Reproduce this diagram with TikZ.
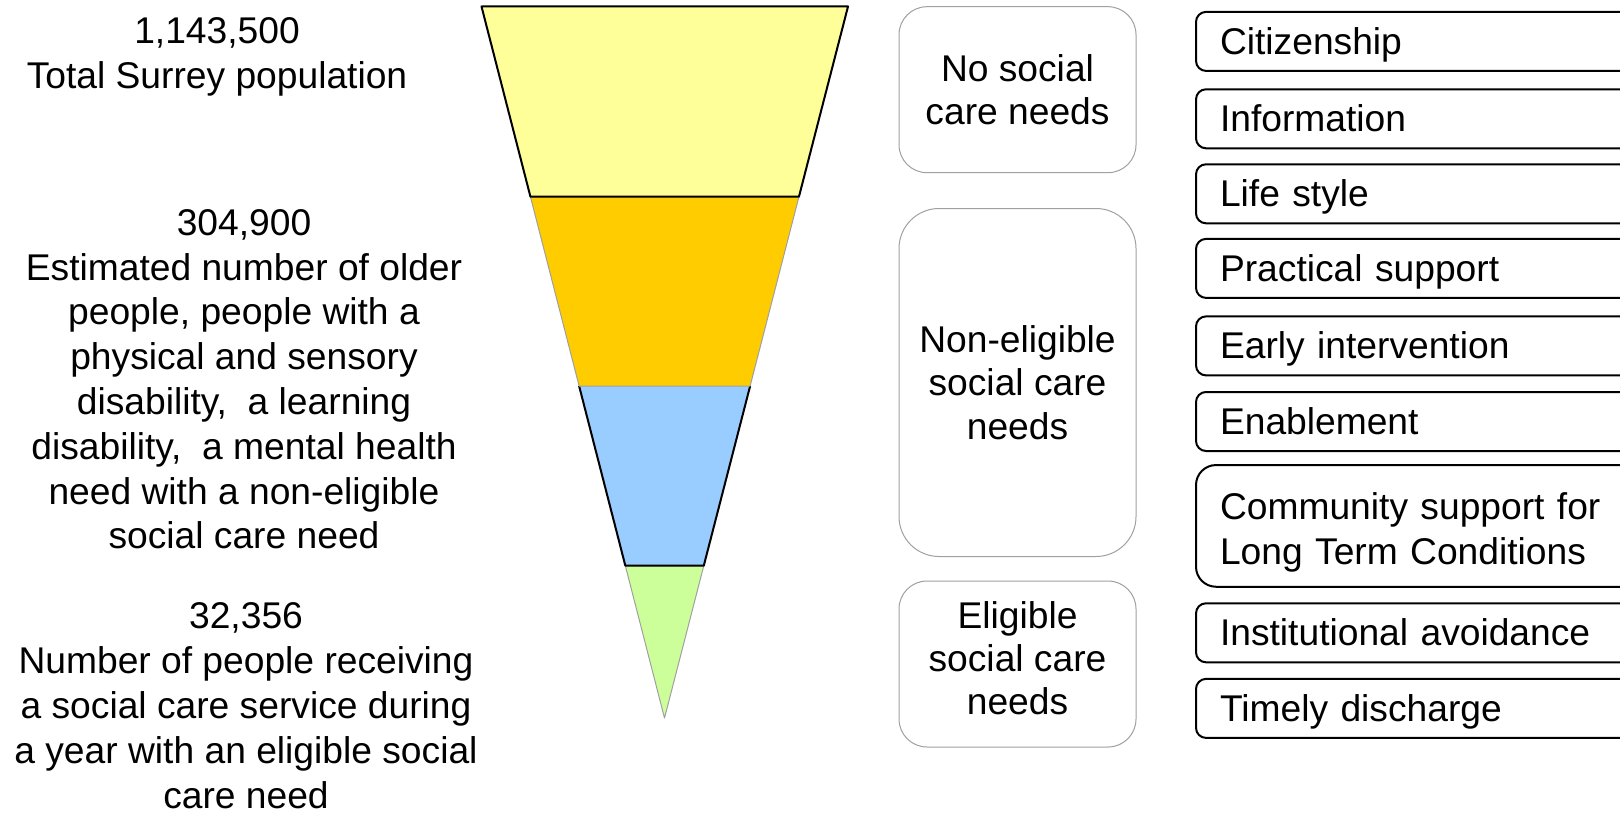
\documentclass[tikz,border=0pt]{standalone}
\usepackage{fontspec}
\setmainfont{Liberation Sans}
\usetikzlibrary{calc}
\definecolor{bandyellow}{HTML}{FFFF99}
\definecolor{bandorange}{HTML}{FFCC00}
\definecolor{bandblue}{HTML}{99CCFF}
\definecolor{bandgreen}{HTML}{CCFF99}
\definecolor{needgray}{HTML}{A0A0A0}
\tikzset{
  poptext/.style={align=center, inner sep=0pt, anchor=north, font=\fontsize{18.6}{22.4}\selectfont},
  needbox/.style={draw=needgray, line width=0.5pt, rounded corners=14pt, minimum width=118.5pt, align=center, inner sep=0pt, font=\fontsize{18.6}{21.7}\selectfont},
  servicebox/.style={draw, line width=1pt, rounded corners=5pt, anchor=west, text width=200pt, inner xsep=12pt, inner ysep=0pt, minimum height=29.5pt, align=left, text height=14pt, text depth=1pt, font=\fontsize{18.6}{22.5}\selectfont},
}
\begin{document}
\begin{tikzpicture}[x=0.5pt, y=-0.5pt, line join=round]
\useasboundingbox (0,0) rectangle (1620,813);
\coordinate (tl) at (481.5,6.5);
\coordinate (tr) at (848,6.5);
\coordinate (apex) at (664.5,718);
\foreach \n/\t in {1/0.2673, 2/0.5334, 3/0.7859} {
  \coordinate (l\n) at ($(tl)!\t!(apex)$);
  \coordinate (r\n) at ($(tr)!\t!(apex)$);
}
\filldraw[fill=bandgreen, draw=needgray, line width=0.5pt] (l3) -- (r3) -- (apex) -- cycle;
\fill[bandblue] (l2) -- (l3) -- (r3) -- (r2) -- cycle;
\draw[line width=1pt] (l2) -- (l3) -- (r3) -- (r2);
\filldraw[fill=bandorange, draw=needgray, line width=0.5pt] (l1) -- (l2) -- (r2) -- (r1) -- cycle;
\filldraw[fill=bandyellow, line width=1pt] (tl) -- (l1) -- (r1) -- (tr) -- cycle;

\node[poptext] (total) at (217,17.5) {1,143,500\\Total Surrey population};
\node[poptext] (older) at (244,209) {304,900\\Estimated number of older\\people, people with a\\physical and sensory\\disability,\ \ a learning\\disability,\ \ a mental health\\need with a non-eligible\\social care need};
\node[poptext] (receiving) at (246,602.5) {32,356\\Number of people receiving\\a social care service during\\a year with an eligible social\\care need};

\node[needbox, minimum height=83pt] (noneed) at (1017.5,89.7) {No social\\care needs};
\node[needbox, minimum height=174pt, rounded corners=20pt] (nonelig) at (1017.5,382.5) {Non-eligible\\social care\\needs};
\node[needbox, minimum height=83pt, text depth=6pt] (elig) at (1017.5,664) {Eligible\\social care\\needs};

\foreach \n/\y/\txt in {citizen/41.4/Citizenship, info/118.8/Information, life/193.8/Life style, practical/268.4/Practical support, early/345.9/Early intervention, enable/421.5/Enablement, avoid/632.8/Institutional avoidance, discharge/708.4/Timely discharge}
  \node[servicebox] (\n) at (1195,\y) {\txt};
\node[servicebox, minimum height=60.85pt, rounded corners=10pt, text depth=20.8pt] (community) at (1195,525.9) {Community support for\\Long Term Conditions};
\end{tikzpicture}
\end{document}
